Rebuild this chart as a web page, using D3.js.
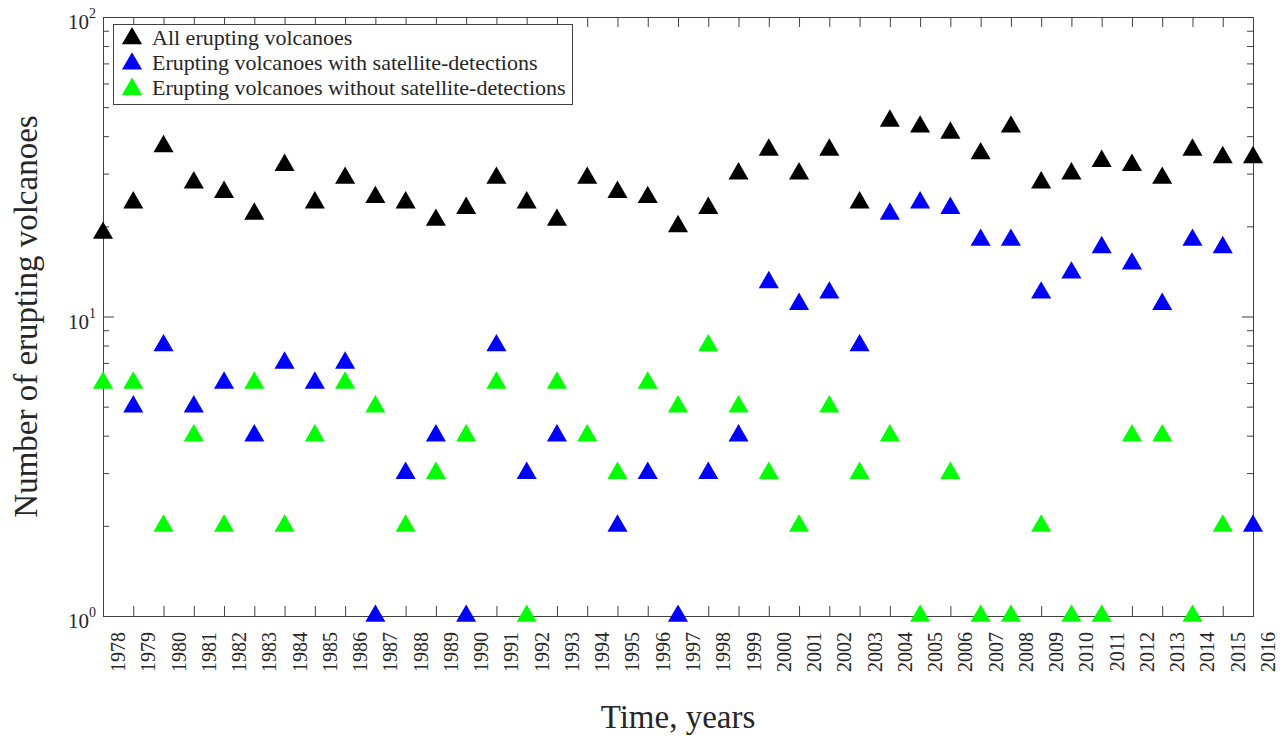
<!DOCTYPE html>
<html>
<head>
<meta charset="utf-8">
<script src="https://cdn.jsdelivr.net/npm/d3@7"></script>
<style>
  body { margin: 0; background: white; }
  text { font-family: "Liberation Serif", "Times New Roman", serif; fill: #262626; }
</style>
</head>
<body>
<div class="chart"></div>
<script>
var years = [1978, 1979, 1980, 1981, 1982, 1983, 1984, 1985, 1986, 1987,
             1988, 1989, 1990, 1991, 1992, 1993, 1994, 1995, 1996, 1997,
             1998, 1999, 2000, 2001, 2002, 2003, 2004, 2005, 2006, 2007,
             2008, 2009, 2010, 2011, 2012, 2013, 2014, 2015, 2016];

var allErupting = [19, 24, 37, 28, 26, 22, 32, 24, 29, 25,
                   24, 21, 23, 29, 24, 21, 29, 26, 25, 20,
                   23, 30, 36, 30, 36, 24, 45, 43, 41, 35,
                   43, 28, 30, 33, 32, 29, 36, 34, 34];

var withSatellite = [null, 5, 8, 5, 6, 4, 7, 6, 7, 1,
                     3, 4, 1, 8, 3, 4, null, 2, 3, 1,
                     3, 4, 13, 11, 12, 8, 22, 24, 23, 18,
                     18, 12, 14, 17, 15, 11, 18, 17, 2];

var withoutSatellite = [6, 6, 2, 4, 2, 6, 2, 4, 6, 5,
                        2, 3, 4, 6, 1, 6, 4, 3, 6, 5,
                        8, 5, 3, 2, 5, 3, 4, 1, 3, 1,
                        1, 2, 1, 1, 4, 4, 1, 2, null];

var seriesNames = ['All erupting volcanoes',
                   'Erupting volcanoes with satellite-detections',
                   'Erupting volcanoes without satellite-detections'];
var seriesColors = ['#000000', '#0000ff', '#00ff00'];
var yMajor = [1, 10, 100];

const W = 1286, H = 738;
const plotL = 103, plotR = 1253, plotT = 17, plotB = 616;
const axisColor = '#404040';

const svg = d3.select('.chart')
    .append('svg')
        .attr('width', W)
        .attr('height', H)
        .style('background', 'white');

const x = d3.scaleLinear().domain([1978, 2016]).range([plotL, plotR]);
const y = d3.scaleLog().domain([1, 100]).range([plotB, plotT]);

// minor ticks 2..9, 20..90 plus the decade
const yTicks = [];
[1, 10].forEach(d => { for (let k = 1; k <= 9; k++) yTicks.push(d * k); });
yTicks.push(100);

function styleAxis(g) {
    g.selectAll('.domain').remove();
    g.selectAll('.tick line').attr('stroke', axisColor);
    g.selectAll('.tick text').remove();
}

svg.append('g').attr('transform', 'translate(0,' + plotB + ')')
    .call(d3.axisBottom(x).tickValues(years).tickSize(-10).tickFormat(''))
    .call(styleAxis);
svg.append('g').attr('transform', 'translate(0,' + plotT + ')')
    .call(d3.axisTop(x).tickValues(years).tickSize(-10).tickFormat(''))
    .call(styleAxis);

svg.append('g').attr('transform', 'translate(' + plotL + ',0)')
    .call(d3.axisLeft(y).tickValues(yTicks).tickSize(-6).tickFormat(''))
    .call(styleAxis)
    .call(g => g.selectAll('.tick line').filter(d => d === 10).attr('x2', 11));
svg.append('g').attr('transform', 'translate(' + plotR + ',0)')
    .call(d3.axisRight(y).tickValues(yTicks).tickSize(-6).tickFormat(''))
    .call(styleAxis)
    .call(g => g.selectAll('.tick line').filter(d => d === 10).attr('x2', -11));

// box
svg.append('rect')
    .attr('x', plotL).attr('y', plotT)
    .attr('width', plotR - plotL).attr('height', plotB - plotT)
    .attr('fill', 'none')
    .attr('stroke', axisColor)
    .attr('shape-rendering', 'crispEdges');

// year labels, rotated
svg.append('g').selectAll('text')
    .data(years)
    .enter()
    .append('text')
        .attr('transform', d => 'translate(' + (x(d) + 22) + ',632) rotate(-90)')
        .attr('text-anchor', 'end')
        .style('font-size', '20px')
        .text(d => d);

// 10^n labels
const yl = svg.append('g').selectAll('text')
    .data(yMajor)
    .enter()
    .append('text')
        .attr('x', 96)
        .attr('y', d => y(d) + 12)
        .attr('text-anchor', 'end')
        .style('font-size', '21px');
yl.append('tspan').text('10');
yl.append('tspan')
    .attr('dy', -11)
    .style('font-size', '14px')
    .text(d => Math.round(Math.log10(d)));

// axis titles
svg.append('text')
    .attr('transform', 'translate(37,' + ((plotT + plotB) / 2) + ') rotate(-90)')
    .attr('text-anchor', 'middle')
    .style('font-size', '33px')
    .text('Number of erupting volcanoes');

svg.append('text')
    .attr('x', (plotL + plotR) / 2)
    .attr('y', 728)
    .attr('text-anchor', 'middle')
    .style('font-size', '33px')
    .text('Time, years');

// markers
const tri = d3.symbol().type(d3.symbolTriangle).size(175);
const allSeries = [allErupting, withSatellite, withoutSatellite];

allSeries.forEach((vals, si) => {
    svg.append('g').selectAll('path')
        .data(years.map((yr, i) => ({ year: yr, value: vals[i] })).filter(d => d.value != null))
        .enter()
        .append('path')
            .attr('d', tri)
            .attr('transform', d => 'translate(' + x(d.year) + ',' + y(d.value) + ')')
            .attr('fill', seriesColors[si]);
});

// legend
const legend = svg.append('g');
legend.append('rect')
    .attr('x', 113).attr('y', 24)
    .attr('width', 459).attr('height', 80)
    .attr('fill', 'white')
    .attr('stroke', axisColor)
    .attr('shape-rendering', 'crispEdges');

const items = legend.selectAll('g.item')
    .data(seriesNames)
    .enter()
    .append('g')
        .attr('class', 'item')
        .attr('transform', (d, i) => 'translate(0,' + (i * 25.3) + ')');

items.append('path')
    .attr('d', tri)
    .attr('transform', 'translate(132,38.5)')
    .attr('fill', (d, i) => seriesColors[i]);

items.append('text')
    .attr('x', 152)
    .attr('y', 44.5)
    .style('font-size', '22px')
    .text(d => d);
</script>
</body>
</html>
